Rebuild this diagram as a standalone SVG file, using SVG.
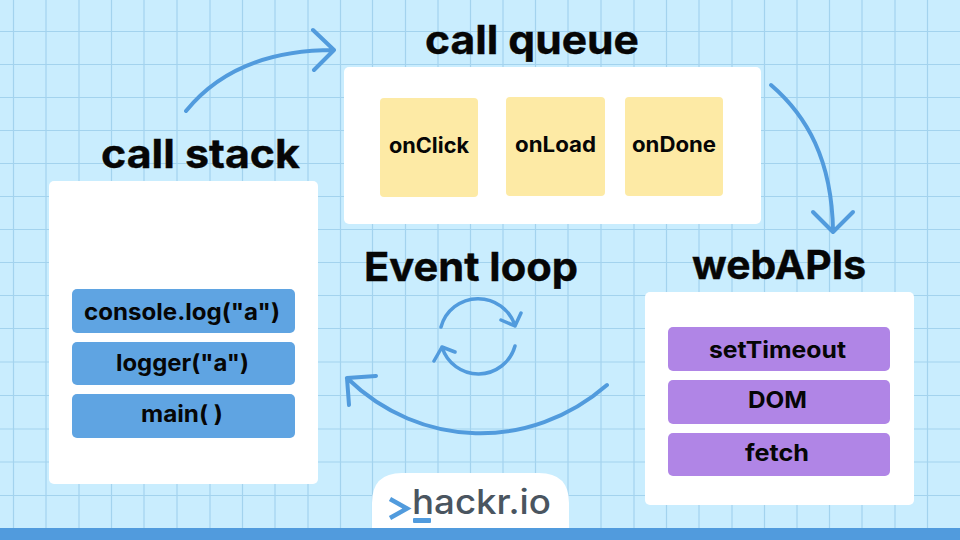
<svg xmlns="http://www.w3.org/2000/svg" width="960" height="540" viewBox="0 0 960 540">
<style>
.g{stroke:#a3d3ee;stroke-width:1.2;fill:none}
.panel{fill:#fff}
.y{fill:#fdeaa5}
.b{fill:#5fa4e2}
.p{fill:#b085e6}
.c{fill:none;stroke:#519bdd;stroke-width:4;stroke-linecap:round;stroke-linejoin:round}
.t{font-family:Inter,"Liberation Sans",sans-serif;font-weight:700;fill:#060606;text-anchor:middle}
.h{font-size:40px;stroke:#060606;stroke-width:.4}
.l{font-size:23px}
.s{font-size:21px}
</style>
<rect width="960" height="540" fill="#c9edfe"/>
<g id="grid">
<path class="g" d="M13.500 0V540M46 0V540M79 0V540M111.500 0V540M144 0V540M177 0V540M210 0V540M242.500 0V540M275 0V540M308 0V540M340.500 0V540M372.500 0V540M405.500 0V540M438 0V540M470.500 0V540M503 0V540M535.500 0V540M568 0V540M601 0V540M634 0V540M666.500 0V540M699 0V540M732 0V540M764.500 0V540M797 0V540M829.500 0V540M862 0V540M895 0V540M927.500 0V540"/>
<path class="g" d="M0 31.500H960M0 64.500H960M0 97.500H960M0 130.500H960M0 163.500H960M0 196.500H960M0 229.500H960M0 262.500H960M0 295.500H960M0 328.500H960M0 362H960M0 395.500H960M0 429H960M0 462H960M0 495.500H960"/>
</g>
<rect x="0" y="528" width="960" height="12" fill="#519bdd"/>
<g id="connectors">
<path class="c" d="M186 111C216 74 262 50 334 50M313 30L334 50L314 70"/>
<path class="c" d="M771 85C807 116 832 160 833 231M813 212L833 232L853 212"/>
<path class="c" d="M607 385C530 452 420 449 347 378M347 378L376 376M347 378L349 405"/>
<path class="c" d="M441 327A38.500 38.500 0 0 1 515 326M501 320L515 326L521 313" style="stroke-width:3.500"/>
<path class="c" d="M515 346A38 38 0 0 1 442 347M442 347L434 361M442 347L455 352" style="stroke-width:3.500"/>
</g>
<g id="call-queue">
<text class="t h" x="532" y="54" textLength="214" lengthAdjust="spacingAndGlyphs">call queue</text>
<rect class="panel" x="344" y="67" width="417" height="157" rx="5"/>
</g>
<g id="onClick"><rect class="y" x="380" y="98" width="98" height="99" rx="4"/><text class="t s" x="429" y="153" textLength="80" lengthAdjust="spacingAndGlyphs">onClick</text></g>
<g id="onLoad"><rect class="y" x="506" y="97" width="99" height="99" rx="4"/><text class="t s" x="555.500" y="152" textLength="81" lengthAdjust="spacingAndGlyphs">onLoad</text></g>
<g id="onDone"><rect class="y" x="625" y="97" width="98" height="99" rx="4"/><text class="t s" x="674" y="152" textLength="84" lengthAdjust="spacingAndGlyphs">onDone</text></g>
<g id="call-stack">
<text class="t h" x="200.500" y="168" textLength="199" lengthAdjust="spacingAndGlyphs">call stack</text>
<rect class="panel" x="49" y="181" width="269" height="303" rx="5"/>
</g>
<g id="console-log"><rect class="b" x="72" y="289" width="223" height="44" rx="5"/><text class="t l" x="182" y="320" textLength="196" lengthAdjust="spacingAndGlyphs">console.log("a")</text></g>
<g id="logger"><rect class="b" x="72" y="342" width="223" height="43" rx="5"/><text class="t l" x="182.500" y="371" textLength="133" lengthAdjust="spacingAndGlyphs">logger("a")</text></g>
<g id="main"><rect class="b" x="72" y="394" width="223" height="44" rx="5"/><text class="t l" x="182" y="422" textLength="82" lengthAdjust="spacingAndGlyphs">main( )</text></g>
<g id="event-loop"><text class="t h" x="471" y="281" textLength="214" lengthAdjust="spacingAndGlyphs">Event loop</text></g>
<g id="web-apis">
<text class="t h" x="779" y="279" textLength="174" lengthAdjust="spacingAndGlyphs">webAPIs</text>
<rect class="panel" x="645" y="292" width="269" height="213" rx="5"/>
</g>
<g id="setTimeout"><rect class="p" x="668" y="327" width="222" height="44" rx="5"/><text class="t l" x="777.500" y="358" textLength="137" lengthAdjust="spacingAndGlyphs">setTimeout</text></g>
<g id="dom"><rect class="p" x="668" y="380" width="222" height="44" rx="5"/><text class="t l" x="777.500" y="408" textLength="59" lengthAdjust="spacingAndGlyphs">DOM</text></g>
<g id="fetch"><rect class="p" x="668" y="433" width="222" height="43" rx="5"/><text class="t l" x="777" y="461" textLength="64" lengthAdjust="spacingAndGlyphs">fetch</text></g>
<g id="logo">
<path d="M372 528V503Q372 473 402 473H539Q569 473 569 503V528Z" fill="#fff"/>
<path d="M390 499L407 508.500L390 518" fill="none" stroke="#519bdd" stroke-width="4.500"/>
<rect x="413" y="518" width="18" height="5" rx="1" fill="#519bdd"/>
<text x="412" y="514" font-family="Inter,'Liberation Sans',sans-serif" font-weight="500" font-size="34" fill="#4a5560" textLength="139" lengthAdjust="spacingAndGlyphs">hackr.io</text>
</g>
</svg>
